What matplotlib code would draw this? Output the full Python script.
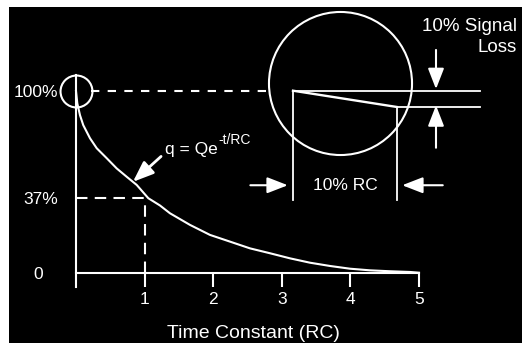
import matplotlib
matplotlib.use('Agg')
import matplotlib.pyplot as plt
from matplotlib.patches import Rectangle
from matplotlib import transforms

plt.rcParams['font.family'] = ['Liberation Sans', 'DejaVu Sans']

# discharge curve (t in RC, q as fraction of Q)
t_vals = [0, 0.019, 0.058, 0.106, 0.204, 0.302, 0.448, 0.593, 0.739, 0.885,
          1.054, 1.224, 1.370, 1.662, 1.953, 2.245, 2.536, 2.828, 3.120, 3.411,
          3.703, 3.994, 4.286, 4.577, 4.869, 5.0]
q_vals = [1.0, 0.932, 0.867, 0.812, 0.740, 0.685, 0.630, 0.574, 0.528, 0.483,
          0.41, 0.37, 0.327, 0.263, 0.208, 0.171, 0.134, 0.107, 0.079, 0.055,
          0.037, 0.022, 0.013, 0.008, 0.004, 0.0]
x_ticks = [1, 2, 3, 4, 5]
y_ticks = [0, 0.41, 1.0]
y_labels = ['0', '37%', '100%']
mark_t = 1.0
mark_q = 0.41

# zoomed view of the first 10% RC
zoom_t = [0, 0.1]
zoom_q = [1.0, 0.9]
ref_end = 0.18

W, H = 522, 343
fig = plt.figure(figsize=(W / 100, H / 100), dpi=100)
fig.patch.set_facecolor('white')
fig.patches.append(Rectangle((9 / W, 0), 1, 1 - 7 / H, transform=fig.transFigure,
                             facecolor='black', edgecolor='none', zorder=-10))

def px_box(l, t, r, b):
    return [l / W, 1 - b / H, (r - l) / W, (b - t) / H]

ax = fig.add_axes(px_box(76, 75, 419, 287))
ax.set_facecolor('none')
ax.set_xlim(0, 5)
ax.set_ylim(-14.3 / 181.7, 197.7 / 181.7)
for s in ['top', 'right']:
    ax.spines[s].set_visible(False)
ax.spines['bottom'].set_position(('data', 0))
for s in ['left', 'bottom']:
    ax.spines[s].set_color('white')
    ax.spines[s].set_linewidth(1.5)

ax.plot(t_vals, q_vals, color='white', lw=1.5, clip_on=False)

ax.set_xticks(x_ticks)
ax.set_xticklabels([str(v) for v in x_ticks])
ax.tick_params(axis='x', direction='out', length=10, width=1.5, colors='white',
               labelsize=12.5, pad=4)
ax.set_yticks(y_ticks)
ax.set_yticklabels(y_labels)
ax.tick_params(axis='y', length=0, colors='white', labelsize=12.5, pad=13)
for lab in ax.get_yticklabels():
    if lab.get_text() == '0':
        lab.set_transform(lab.get_transform() +
                          transforms.ScaledTranslation(-15 / 100, 0, fig.dpi_scale_trans))

ax.set_xlabel('Time Constant (RC)', color='white', fontsize=14)
ax.xaxis.label.set_va('center')
ax.xaxis.set_label_coords(0.518, -(333 - 287) / 212)

# 37% guides
ax.plot([0, mark_t], [mark_q, mark_q], color='white', lw=1.5, ls=(0, (5.5, 3.5)))
ax.plot([mark_t, mark_t], [0, mark_q], color='white', lw=1.5, ls=(0, (5.5, 3.5)))

# small circle at the start and dashed line to zoom
ax.plot([0], [q_vals[0]], marker='o', ms=23, mfc='none', mec='white', mew=1.5,
        clip_on=False)
ax.plot([0.22, 2.8], [q_vals[0], q_vals[0]], color='white', lw=1.5,
        ls=(0, (4, 4)), clip_on=False)

# equation with arrow
ax.annotate('', xy=(0.83, 0.50), xytext=(1.24, 0.64),
            arrowprops=dict(arrowstyle='-|>,head_length=0.9,head_width=0.35',
                            color='white', lw=2, mutation_scale=14,
                            shrinkA=0, shrinkB=0))
eq = ax.text(1.30, 0.676, 'q = Qe', color='white', fontsize=12.5,
             ha='left', va='center')
ax.annotate('-t/RC', xy=(1, 0.7), xycoords=eq, color='white', fontsize=10,
            ha='left', va='bottom')

# inset zoom
ax_in = fig.add_axes(px_box(240, 0, 500, 220))
ax_in.set_xlim((240 - 293) / 1040, (500 - 293) / 1040)
ax_in.set_ylim(1 - (220 - 90.7) / 163, 1 + 90.7 / 163)
ax_in.axis('off')
lw_in = 1.3
ax_in.plot([zoom_t[0], ref_end], [zoom_q[0], zoom_q[0]], color='white', lw=lw_in)
ax_in.plot([zoom_t[1], ref_end], [zoom_q[1], zoom_q[1]], color='white', lw=lw_in)
ax_in.plot(zoom_t, zoom_q, color='white', lw=lw_in + 0.4)
ax_in.plot([zoom_t[0], zoom_t[0]], [zoom_q[0], 0.33], color='white', lw=lw_in)
ax_in.plot([zoom_t[1], zoom_t[1]], [zoom_q[1], 0.33], color='white', lw=lw_in)
ax_in.plot([0.045], [1.047], marker='o', ms=103, mfc='none', mec='white', mew=1.5,
           clip_on=False)

arr = dict(arrowstyle='-|>,head_length=0.9,head_width=0.35', color='white',
           lw=1.5, mutation_scale=14, shrinkA=0, shrinkB=0)
ax_in.annotate('', xy=(-0.005, 0.42), xytext=(-0.041, 0.42), arrowprops=arr)
ax_in.annotate('', xy=(0.105, 0.42), xytext=(0.144, 0.42), arrowprops=arr)
ax_in.annotate('', xy=(0.1375, 1.01), xytext=(0.1375, 1.25), arrowprops=arr)
ax_in.annotate('', xy=(0.1375, 0.91), xytext=(0.1375, 0.65), arrowprops=arr)
ax_in.text(0.05, 0.42, '10% RC', color='white', fontsize=12.5,
           ha='center', va='center')

fig.text(517 / W, 1 - 37 / H, '10% Signal\nLoss', color='white', fontsize=13.5,
         ha='right', va='center', multialignment='right', linespacing=1.3)

fig.savefig('out.png', dpi=100, facecolor=fig.get_facecolor())
